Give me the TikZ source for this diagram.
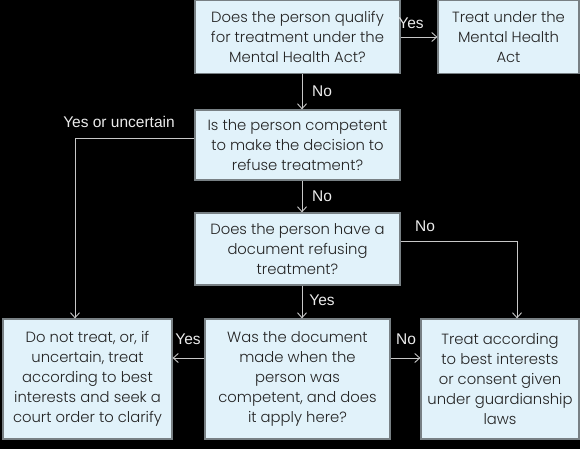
\documentclass[tikz,border=0pt]{standalone}
\usepackage{fontspec}
\setmainfont{Poppins Light}
\newfontfamily\lblfont{Liberation Sans}
\usetikzlibrary{arrows.meta,positioning}

\definecolor{boxfill}{RGB}{225,242,250}
\definecolor{boxline}{RGB}{120,128,132}
\definecolor{boxtext}{RGB}{35,35,35}
\definecolor{linecol}{RGB}{200,200,200}
\definecolor{lblcol}{RGB}{235,235,235}

\tikzset{
    qbox/.style = {rectangle, draw=boxline, line width=1.2pt, fill=boxfill,
                   text=boxtext, align=center, inner sep=0pt,
                   font=\fontsize{14.8}{20}\selectfont},
    lbl/.style  = {text=lblcol, inner sep=0pt, font=\lblfont\fontsize{15.5}{16}\selectfont},
    arr/.style  = {draw=linecol, line width=0.9pt, -{Straight Barb[length=5pt,width=9pt]}}
}

\begin{document}
\begin{tikzpicture}[x=1pt, y=1pt]
    \fill[black] (0,0) rectangle (580,-449);
    \useasboundingbox (0,0) rectangle (580,-449);

    % questions down the middle
    \node[qbox, minimum width=205, minimum height=73] (qualify) at (297.5,-37)
        {Does the person qualify\\for treatment under the\\Mental Health Act?};
    \node[qbox, minimum width=205, minimum height=70] (competent) at (297.5,-145)
        {Is the person competent\\to make the decision to\\refuse treatment?};
    \node[qbox, minimum width=205, minimum height=72] (document) at (297.5,-249)
        {Does the person have a\\document refusing\\treatment?};
    \node[qbox, minimum width=185, minimum height=120] (made) at (297.5,-379)
        {Was the document\\made when the\\person was\\competent, and does\\it apply here?};

    % outcomes
    \node[qbox, minimum width=141, minimum height=73] (mha) at (508.5,-37)
        {Treat under the\\Mental Health\\Act};
    \node[qbox, minimum width=169, minimum height=120] (donot) at (87.5,-379)
        {Do not treat, or, if\\uncertain, treat\\according to best\\interests and seek a\\court order to clarify};
    \node[qbox, minimum width=158, minimum height=120] (best) at (500,-379)
        {Treat according\\to best interests\\or consent given\\under guardianship\\laws};

    \draw[arr] (qualify.east) -- (mha.west);
    \draw[arr] ([xshift=4.5pt]qualify.south) -- ([xshift=4.5pt]competent.north);
    \draw[arr] ([yshift=7pt]competent.west) -| ([xshift=-12.5pt]donot.north);
    \draw[arr] ([xshift=4.5pt]competent.south) -- ([xshift=4.5pt]document.north);
    \draw[arr] ([xshift=4.5pt]document.south) -- ([xshift=4.5pt]made.north);
    \draw[arr] ([yshift=8pt]document.east) -| ([xshift=17pt]best.north);
    \draw[arr] ([yshift=21pt]made.west) -- ([yshift=21pt]donot.east);
    \draw[arr] ([yshift=21pt]made.east) -- ([yshift=21pt]best.west);

    \node[lbl] (l1) at (411,-23) {Yes};
    \node[lbl] (l2) at (322,-91) {No};
    \node[lbl] (l3) at (119,-122) {Yes or uncertain};
    \node[lbl] (l4) at (322,-196) {No};
    \node[lbl] (l5) at (425,-226) {No};
    \node[lbl] (l6) at (322,-300) {Yes};
    \node[lbl] (l7) at (188,-339) {Yes};
    \node[lbl] (l8) at (406,-339) {No};
\end{tikzpicture}
\end{document}
